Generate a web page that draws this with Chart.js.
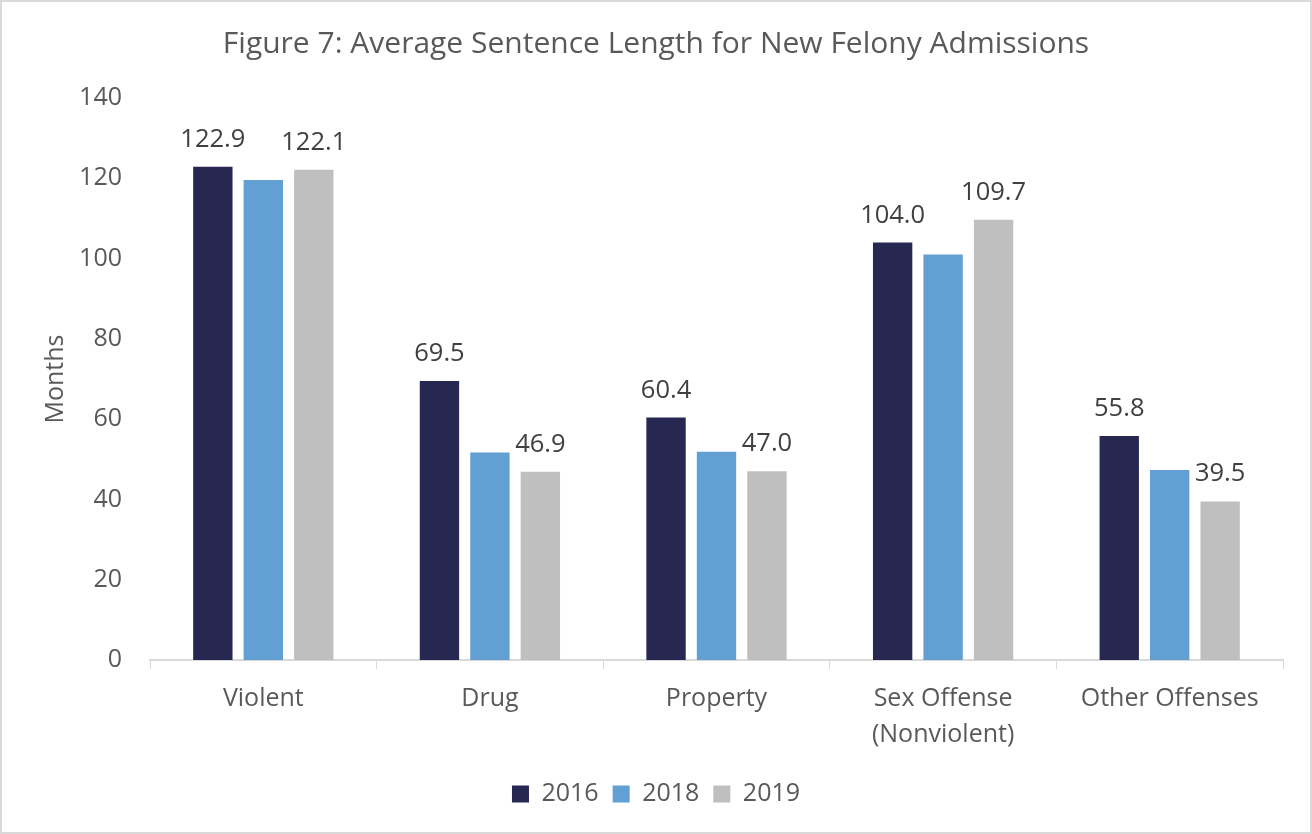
<!DOCTYPE html>
<html>
<head>
<meta charset="utf-8">
<script src="https://cdn.jsdelivr.net/npm/chart.js@4"></script>
<style>
html,body{margin:0;padding:0;background:#fff;}
#wrap{width:1312px;height:834px;position:relative;}
</style>
</head>
<body>
<div id="wrap"><canvas id="c" width="1312" height="834"></canvas></div>
<script>
const titleText = 'Figure 7: Average Sentence Length for New Felony Admissions';
const categories = ['Violent', 'Drug', 'Property', ['Sex Offense', '(Nonviolent)'], 'Other Offenses'];
const seriesNames = ['2016', '2018', '2019'];
const values2016 = [122.9, 69.5, 60.4, 104.0, 55.8];
const values2018 = [119.6, 51.7, 51.9, 101.0, 47.3];
const values2019 = [122.1, 46.9, 47.0, 109.7, 39.5];
const labelledSeries = [0, 2];
const yTitle = 'Months';

const FONT = "'Open Sans', 'Segoe UI', sans-serif";
const colors = ['#262852', '#629FD2', '#BFBFBF'];
const PAD_BOTTOM = 17.5;

const frame = {
  id: 'frame',
  beforeDraw(chart) {
    const ctx = chart.ctx;
    ctx.save();
    ctx.fillStyle = '#fff';
    ctx.fillRect(0, 0, chart.width, chart.height);
    ctx.strokeStyle = '#d9d9d9';
    ctx.lineWidth = 2;
    ctx.strokeRect(1, 1, chart.width - 2, chart.height - 2);
    ctx.restore();
  }
};

const dataLabels = {
  id: 'dataLabels',
  afterDatasetsDraw(chart) {
    const ctx = chart.ctx;
    ctx.save();
    ctx.font = '25.5px ' + FONT;
    ctx.fillStyle = '#404040';
    ctx.textAlign = 'center';
    ctx.textBaseline = 'alphabetic';
    labelledSeries.forEach(di => {
      const meta = chart.getDatasetMeta(di);
      meta.data.forEach((bar, i) => {
        const v = chart.data.datasets[di].data[i];
        ctx.fillText(v.toFixed(1), bar.x, bar.y - 20);
      });
    });
    ctx.restore();
  }
};

new Chart(document.getElementById('c'), {
  type: 'bar',
  data: {
    labels: categories,
    datasets: [
      { label: seriesNames[0], data: values2016, backgroundColor: colors[0] },
      { label: seriesNames[1], data: values2018, backgroundColor: colors[1] },
      { label: seriesNames[2], data: values2019, backgroundColor: colors[2] }
    ]
  },
  options: {
    responsive: false,
    animation: false,
    devicePixelRatio: 1,
    categoryPercentage: 0.668,
    barPercentage: 0.78,
    layout: { padding: { left: 0, right: 0, top: 0, bottom: PAD_BOTTOM } },
    plugins: {
      tooltip: { enabled: false },
      title: {
        display: true,
        text: titleText,
        color: '#595959',
        font: { family: FONT, size: 30, weight: 'normal' },
        padding: { top: 26, bottom: 36 }
      },
      legend: {
        position: 'bottom',
        labels: {
          color: '#595959',
          font: { family: FONT, size: 25 },
          boxWidth: 17,
          boxHeight: 17,
          padding: 14
        }
      }
    },
    scales: {
      x: {
        grid: { display: true, drawOnChartArea: false, drawTicks: true, tickLength: 9, color: '#d9d9d9', offset: true },
        border: { display: true, color: '#d9d9d9', width: 2 },
        ticks: { color: '#595959', font: { family: FONT, size: 25, lineHeight: 1.44 }, padding: 12, maxRotation: 0, autoSkip: false },
        afterFit(scale) {
          const lh = scale.chart.legend ? scale.chart.legend.height : 0;
          scale.height = 834 - PAD_BOTTOM - lh - 660;
        }
      },
      y: {
        min: 0, max: 140,
        ticks: { stepSize: 20, color: '#595959', font: { family: FONT, size: 25 }, padding: 28 },
        grid: { display: false, drawTicks: false },
        border: { display: false },
        title: { display: true, text: yTitle, color: '#595959', font: { family: FONT, size: 25 }, padding: { top: 41, bottom: 0 } },
        afterFit(scale) { scale.width = 150; }
      },
      yRight: {
        position: 'right',
        display: true,
        min: 0, max: 140,
        ticks: { display: false },
        grid: { display: false, drawTicks: false },
        border: { display: false },
        afterFit(scale) { scale.width = 29; }
      }
    }
  },
  plugins: [frame, dataLabels]
});
</script>
</body>
</html>
